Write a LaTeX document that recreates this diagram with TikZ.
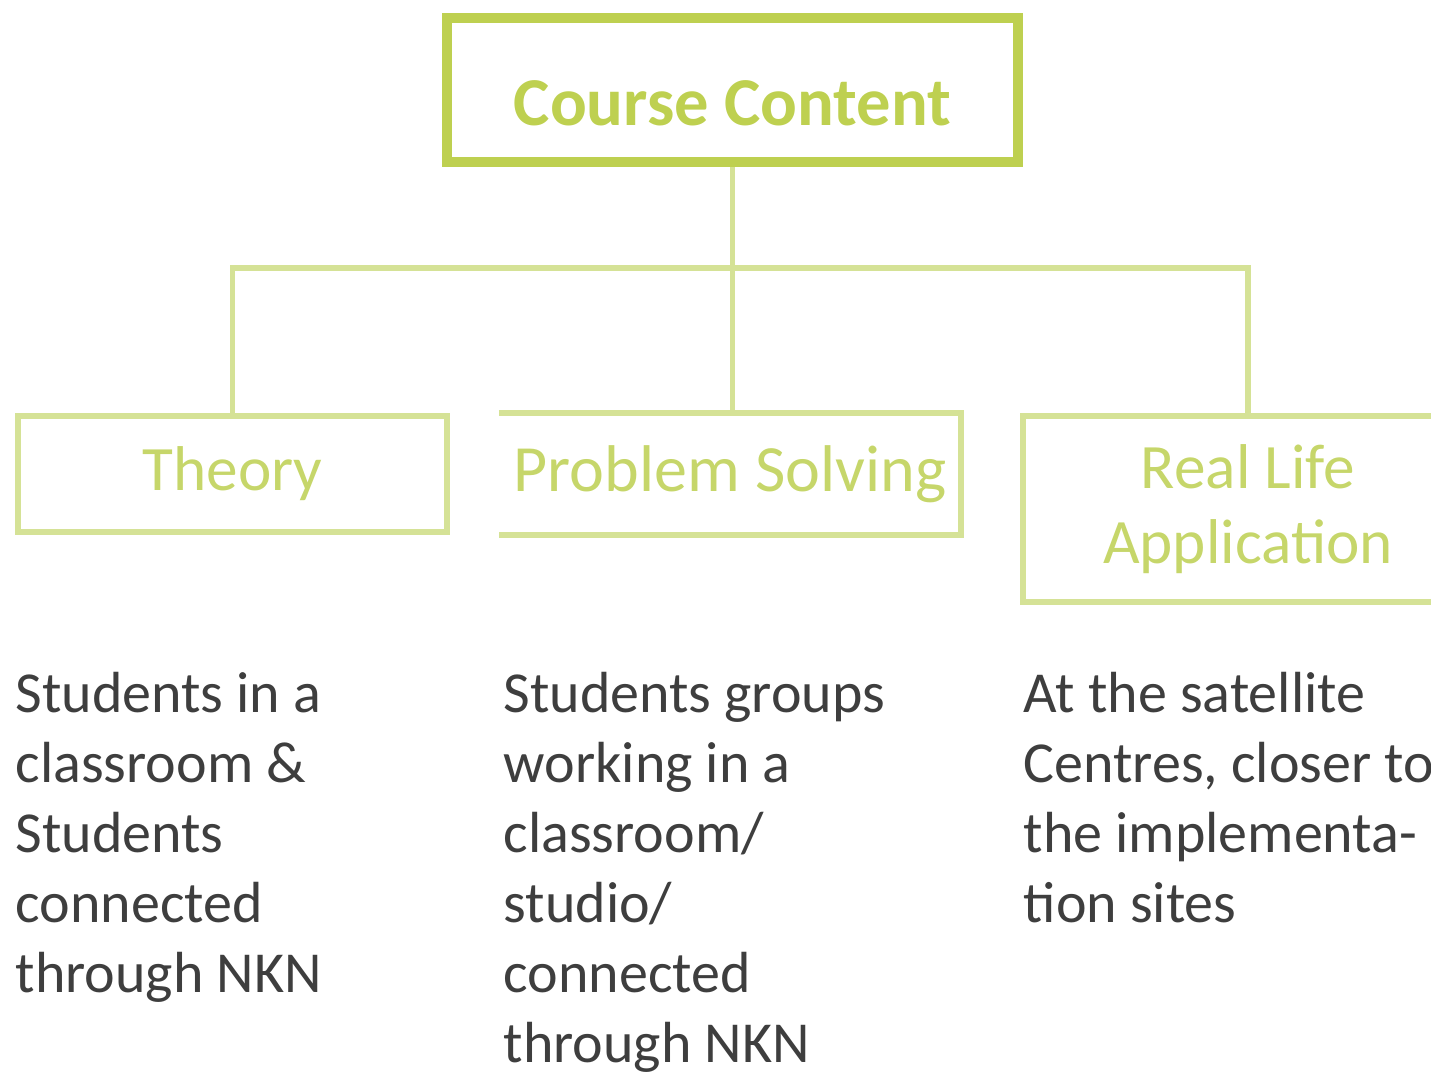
\documentclass[tikz,border=0pt]{standalone}
\usepackage{fontspec}
\setmainfont{Carlito}
\usepackage{tikz}
\usetikzlibrary{positioning}

\definecolor{topgreen}{RGB}{190,208,80}
\definecolor{boxgreen}{RGB}{213,226,150}
\definecolor{labgreen}{RGB}{198,214,106}
\definecolor{bodygray}{RGB}{62,62,62}

\begin{document}
\begin{tikzpicture}
	\useasboundingbox (0,0) rectangle (14.31,-10.72);
	\tikzset{topbox/.style={draw=topgreen,line width=2.9pt,minimum width=5.71cm,minimum height=1.44cm,
		text=topgreen,text height=0.72cm,font=\fontsize{19.5}{23}\selectfont\bfseries}}
	\tikzset{subbox/.style={line width=1.7pt,minimum width=4.29cm,minimum height=1.16cm,
		text=labgreen,align=center,font=\fontsize{18}{21.5}\selectfont}}
	\tikzset{link/.style={draw=boxgreen,line width=1.5pt}}
	\tikzstyle{bodytxt}=[anchor=north west,inner sep=0pt,align=left,text=bodygray,
		font=\fontsize{16.5}{19.9}\selectfont]

	%% boxes
	\clip (0,0) rectangle (14.31,-10.72);
	\node[topbox] (course) at (7.325,-0.90) {Course Content};
	\node[subbox,draw=boxgreen] (theory) at (2.325,-4.74) {Theory};
	\node[subbox,minimum width=4.50cm,font=\fontsize{18.8}{22}\selectfont] (ps) at (7.30,-4.74) {Problem Solving};
	\node[subbox,draw=boxgreen,minimum width=4.50cm,minimum height=1.86cm] (real) at (12.48,-5.09) {Real Life\\Application};
	\draw[boxgreen,line width=1.7pt] (ps.north west) -- (ps.north east) -- (ps.south east) -- (ps.south west);

	%% connectors
	\coordinate (bus) at (7.325,-2.68);
	\draw[link] (course.south) -- (bus) -- (ps.north -| bus);
	\draw[link] (theory.north) |- (bus) -| (real.north);

	%% descriptions
	\node[bodytxt] (theorytxt) at (0.15,-6.72) {Students in a\\classroom \&\\Students\\connected\\through NKN};
	\node[bodytxt] (pstxt) at (5.03,-6.72) {Students groups\\working in a\\classroom/\\studio/\\connected\\through NKN};
	\node[bodytxt] (realtxt) at (10.23,-6.72) {At the satellite\\Centres, closer to\\the implementa-\\tion sites};
\end{tikzpicture}
\end{document}
